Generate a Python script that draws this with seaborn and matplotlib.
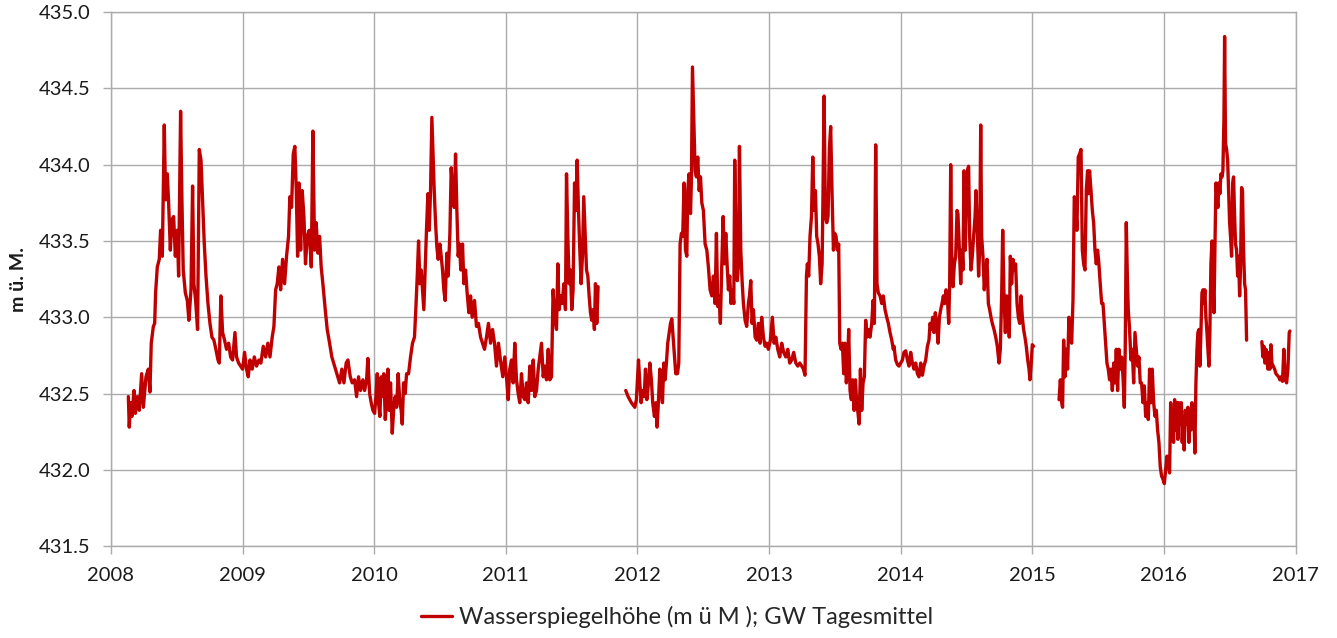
import matplotlib.pyplot as plt
import numpy as np
import pandas as pd
import seaborn as sns

# Grundwasserstand, Tagesmittel; Zeit als Dezimaljahr
jahr_a = [2008.132, 2008.139, 2008.149, 2008.159, 2008.175, 2008.185, 2008.200, 2008.215, 2008.233, 2008.246,
          2008.266, 2008.284, 2008.296, 2008.306, 2008.322, 2008.332, 2008.339, 2008.352, 2008.367, 2008.377,
          2008.390, 2008.405, 2008.415, 2008.428, 2008.438, 2008.451, 2008.463, 2008.476, 2008.489, 2008.504,
          2008.514, 2008.529, 2008.539, 2008.549, 2008.565, 2008.580, 2008.592, 2008.608, 2008.620, 2008.630,
          2008.643, 2008.658, 2008.671, 2008.684, 2008.696, 2008.709, 2008.722, 2008.737, 2008.752, 2008.767,
          2008.782, 2008.797, 2008.813, 2008.823, 2008.835, 2008.848, 2008.863, 2008.878, 2008.894, 2008.909,
          2008.924, 2008.942, 2008.954, 2008.970, 2008.985, 2009.000, 2009.015, 2009.030, 2009.043, 2009.056,
          2009.073, 2009.089, 2009.106, 2009.124, 2009.139, 2009.157, 2009.175, 2009.192, 2009.208, 2009.225,
          2009.238, 2009.251, 2009.263, 2009.276, 2009.289, 2009.304, 2009.319, 2009.334, 2009.349, 2009.359,
          2009.372, 2009.385, 2009.397, 2009.408, 2009.418, 2009.428, 2009.441, 2009.453, 2009.466, 2009.478,
          2009.491, 2009.506]
pegel_a = [432.48, 432.28, 432.44, 432.35, 432.52, 432.37, 432.48, 432.39, 432.63, 432.41,
           432.61, 432.66, 432.51, 432.83, 432.94, 432.96, 433.16, 433.33, 433.38, 433.57,
           433.40, 434.26, 433.77, 433.94, 433.75, 433.44, 433.64, 433.66, 433.40, 433.57,
           433.27, 434.35, 433.77, 433.31, 433.16, 433.11, 432.98, 433.18, 433.86, 433.22,
           433.11, 432.92, 434.10, 434.03, 433.77, 433.48, 433.27, 433.09, 432.96, 432.87,
           432.85, 432.79, 432.72, 432.70, 433.14, 432.90, 432.85, 432.79, 432.83, 432.74,
           432.72, 432.90, 432.74, 432.70, 432.68, 432.66, 432.77, 432.66, 432.61, 432.72,
           432.66, 432.74, 432.68, 432.72, 432.70, 432.81, 432.74, 432.83, 432.74, 432.87,
           432.94, 433.18, 433.22, 433.33, 433.18, 433.38, 433.22, 433.40, 433.53, 433.79,
           433.72, 434.07, 434.12, 433.83, 433.40, 433.88, 433.44, 433.83, 433.66, 433.35,
           433.53, 433.57]

jahr_b = [2009.522, 2009.534, 2009.547, 2009.559, 2009.572, 2009.585, 2009.597, 2009.610, 2009.628, 2009.643,
          2009.661, 2009.678, 2009.699, 2009.716, 2009.737, 2009.754, 2009.770, 2009.787, 2009.800, 2009.818,
          2009.833, 2009.851, 2009.866, 2009.881, 2009.896, 2009.914, 2009.927, 2009.942, 2009.952, 2009.965,
          2009.977, 2009.990, 2010.003, 2010.013, 2010.023, 2010.033, 2010.043, 2010.053, 2010.066, 2010.073,
          2010.084, 2010.094, 2010.104, 2010.114, 2010.124, 2010.137, 2010.149, 2010.159, 2010.170, 2010.182,
          2010.195, 2010.205, 2010.213, 2010.223, 2010.235, 2010.246, 2010.261, 2010.276, 2010.291, 2010.306,
          2010.316, 2010.327, 2010.337, 2010.347, 2010.357, 2010.367, 2010.377, 2010.387, 2010.397, 2010.408,
          2010.418, 2010.428, 2010.438, 2010.446, 2010.456, 2010.466, 2010.476, 2010.486, 2010.499, 2010.509,
          2010.519, 2010.529, 2010.539, 2010.552, 2010.562, 2010.575, 2010.585, 2010.595, 2010.608, 2010.618,
          2010.628, 2010.638, 2010.648, 2010.658, 2010.671, 2010.681, 2010.694, 2010.706, 2010.719, 2010.732,
          2010.744, 2010.762, 2010.777, 2010.792, 2010.808, 2010.823, 2010.838, 2010.853, 2010.868, 2010.884,
          2010.899, 2010.914, 2010.929, 2010.944, 2010.959, 2010.977]
pegel_b = [433.33, 434.22, 433.44, 433.62, 433.42, 433.53, 433.33, 433.22, 433.05, 432.92,
           432.83, 432.74, 432.68, 432.63, 432.57, 432.66, 432.57, 432.70, 432.72, 432.61,
           432.57, 432.59, 432.48, 432.61, 432.52, 432.59, 432.52, 432.59, 432.73, 432.50,
           432.44, 432.39, 432.37, 432.48, 432.63, 432.44, 432.35, 432.61, 432.48, 432.63,
           432.33, 432.44, 432.66, 432.39, 432.57, 432.24, 432.41, 432.48, 432.41, 432.63,
           432.44, 432.39, 432.30, 432.57, 432.50, 432.63, 432.63, 432.74, 432.83, 432.87,
           433.05, 433.27, 433.50, 433.22, 433.31, 433.18, 433.05, 433.31, 433.57, 433.81,
           433.57, 433.83, 434.31, 434.10, 433.83, 433.62, 433.46, 433.38, 433.48, 433.40,
           433.31, 433.18, 433.11, 433.42, 433.27, 433.55, 433.98, 433.83, 433.72, 434.07,
           433.70, 433.40, 433.48, 433.31, 433.48, 433.22, 433.31, 433.16, 433.03, 433.14,
           433.00, 433.11, 432.94, 432.96, 432.87, 432.83, 432.79, 432.87, 432.96, 432.83,
           432.92, 432.83, 432.68, 432.83, 432.72, 432.61]

jahr_c = [2010.992, 2011.005, 2011.018, 2011.030, 2011.043, 2011.056, 2011.068, 2011.081, 2011.094, 2011.106,
          2011.119, 2011.132, 2011.144, 2011.157, 2011.170, 2011.182, 2011.195, 2011.208, 2011.220, 2011.233,
          2011.246, 2011.258, 2011.271, 2011.284, 2011.296, 2011.309, 2011.322, 2011.334, 2011.347, 2011.359,
          2011.372, 2011.385, 2011.395, 2011.405, 2011.415, 2011.428, 2011.441, 2011.453, 2011.461, 2011.471,
          2011.481, 2011.491, 2011.501, 2011.511, 2011.522, 2011.532, 2011.542, 2011.552, 2011.562, 2011.572,
          2011.582, 2011.592, 2011.603, 2011.613, 2011.623, 2011.633, 2011.643, 2011.653, 2011.663, 2011.673,
          2011.681, 2011.691, 2011.701]
pegel_c = [432.74, 432.61, 432.46, 432.66, 432.72, 432.57, 432.83, 432.59, 432.50, 432.44,
           432.63, 432.48, 432.46, 432.57, 432.44, 432.68, 432.52, 432.72, 432.48, 432.52,
           432.66, 432.74, 432.83, 432.61, 432.68, 432.59, 432.79, 432.59, 432.61, 433.18,
           433.00, 432.92, 433.35, 433.05, 433.14, 433.09, 433.22, 433.05, 433.94, 433.53,
           433.22, 433.31, 433.05, 433.18, 433.88, 433.70, 434.03, 433.70, 433.44, 433.22,
           433.40, 433.79, 433.53, 433.31, 433.27, 433.14, 433.03, 432.98, 433.05, 432.92,
           433.22, 432.96, 433.20]

jahr_d = [2011.911, 2011.929, 2011.954, 2011.980, 2011.992, 2012.008, 2012.018, 2012.028, 2012.038, 2012.051,
          2012.061, 2012.071, 2012.084, 2012.094, 2012.106, 2012.116, 2012.129, 2012.139, 2012.149, 2012.159,
          2012.170, 2012.180, 2012.190, 2012.200, 2012.210, 2012.220, 2012.230, 2012.241, 2012.251, 2012.261,
          2012.271, 2012.281, 2012.291, 2012.304, 2012.314, 2012.324, 2012.334, 2012.344, 2012.354, 2012.365,
          2012.375, 2012.382, 2012.392, 2012.403, 2012.410, 2012.418, 2012.428, 2012.438, 2012.448]
pegel_d = [432.52, 432.48, 432.44, 432.41, 432.46, 432.72, 432.57, 432.44, 432.52, 432.48,
           432.66, 432.46, 432.57, 432.70, 432.59, 432.44, 432.35, 432.44, 432.28, 432.44,
           432.66, 432.52, 432.44, 432.70, 432.59, 432.70, 432.83, 432.90, 432.96, 432.99,
           432.87, 432.74, 432.63, 432.63, 432.70, 433.48, 433.55, 433.53, 433.88, 433.44,
           433.40, 433.83, 433.94, 433.68, 433.90, 434.64, 434.31, 433.96, 433.92]

jahr_e = [2012.458, 2012.469, 2012.479, 2012.489, 2012.501, 2012.514, 2012.527, 2012.539, 2012.552, 2012.565,
          2012.577, 2012.590, 2012.600, 2012.610, 2012.620, 2012.630, 2012.641, 2012.651, 2012.661, 2012.671,
          2012.681, 2012.691, 2012.701, 2012.711, 2012.722, 2012.732, 2012.739, 2012.749, 2012.759, 2012.767,
          2012.775, 2012.785, 2012.795, 2012.805, 2012.818, 2012.830, 2012.843, 2012.851, 2012.861, 2012.871,
          2012.881, 2012.894, 2012.906, 2012.919, 2012.932, 2012.944, 2012.957, 2012.970, 2012.982, 2012.995,
          2013.010, 2013.025, 2013.038, 2013.051, 2013.066, 2013.081, 2013.096, 2013.111, 2013.127, 2013.142,
          2013.157, 2013.172, 2013.187, 2013.203, 2013.218, 2013.233, 2013.248, 2013.261, 2013.273, 2013.284,
          2013.291, 2013.301, 2013.311, 2013.322, 2013.332, 2013.342, 2013.352, 2013.362, 2013.372, 2013.382,
          2013.392, 2013.403, 2013.410, 2013.418, 2013.428, 2013.438, 2013.448, 2013.458, 2013.468, 2013.478,
          2013.489, 2013.499, 2013.509, 2013.519, 2013.529, 2013.537, 2013.547, 2013.557, 2013.567, 2013.577,
          2013.587, 2013.597, 2013.605, 2013.615, 2013.625, 2013.635, 2013.646, 2013.656, 2013.666, 2013.676,
          2013.684, 2013.694, 2013.704, 2013.714, 2013.724, 2013.734, 2013.744, 2013.754, 2013.767, 2013.780,
          2013.790, 2013.800, 2013.810, 2013.820, 2013.830, 2013.843, 2013.856, 2013.868, 2013.881, 2013.894,
          2013.906, 2013.919, 2013.932, 2013.944]
pegel_e = [434.05, 433.83, 433.92, 433.75, 433.70, 433.48, 433.44, 433.33, 433.18, 433.14,
           433.27, 433.09, 433.55, 433.07, 433.14, 432.96, 433.35, 433.66, 433.35, 433.55,
           433.35, 433.18, 433.27, 433.09, 433.18, 433.09, 434.03, 433.44, 433.24, 433.35,
           434.12, 433.44, 433.24, 433.09, 432.98, 432.94, 433.09, 433.14, 433.24, 432.96,
           433.05, 432.87, 432.85, 432.96, 432.83, 433.00, 432.87, 432.81, 432.83, 432.79,
           432.85, 433.00, 432.83, 432.87, 432.79, 432.74, 432.83, 432.77, 432.74, 432.79,
           432.70, 432.72, 432.77, 432.70, 432.68, 432.70, 432.68, 432.66, 432.62, 433.27,
           433.35, 433.27, 433.53, 433.66, 434.05, 433.70, 433.83, 433.53, 433.48, 433.40,
           433.22, 433.35, 433.83, 434.45, 433.66, 433.62, 433.66, 434.10, 434.25, 433.83,
           433.44, 433.55, 433.53, 433.44, 433.48, 432.83, 432.79, 432.83, 432.63, 432.83,
           432.57, 432.70, 432.92, 432.52, 432.46, 432.59, 432.39, 432.59, 432.44, 432.37,
           432.30, 432.66, 432.39, 432.57, 432.61, 432.98, 432.87, 432.92, 432.87, 432.96,
           433.11, 432.96, 434.13, 433.22, 433.16, 433.14, 433.09, 433.14, 433.05, 433.00,
           432.96, 432.90, 432.85, 432.79]

jahr_f = [2013.949, 2013.962, 2013.975, 2013.987, 2014.000, 2014.013, 2014.025, 2014.038, 2014.051, 2014.063,
          2014.076, 2014.089, 2014.101, 2014.114, 2014.127, 2014.139, 2014.152, 2014.165, 2014.177, 2014.190,
          2014.203, 2014.215, 2014.223, 2014.233, 2014.243, 2014.253, 2014.263, 2014.273, 2014.284, 2014.294,
          2014.304, 2014.314, 2014.324, 2014.334, 2014.344, 2014.354, 2014.365, 2014.372, 2014.380, 2014.387,
          2014.397, 2014.408, 2014.418, 2014.428, 2014.435, 2014.446, 2014.456, 2014.466, 2014.473, 2014.481,
          2014.491, 2014.499, 2014.509, 2014.516, 2014.524, 2014.534, 2014.544, 2014.554, 2014.565, 2014.572,
          2014.582, 2014.592, 2014.600, 2014.608, 2014.615, 2014.625, 2014.635, 2014.646, 2014.656, 2014.666,
          2014.676, 2014.686, 2014.696, 2014.709, 2014.722, 2014.734, 2014.747, 2014.757, 2014.767, 2014.775,
          2014.785, 2014.795, 2014.805, 2014.815, 2014.825, 2014.833, 2014.843, 2014.853, 2014.863, 2014.873,
          2014.884, 2014.894, 2014.904, 2014.914, 2014.924, 2014.934, 2014.944, 2014.954, 2014.965, 2014.975,
          2014.982, 2014.992, 2015.000, 2015.010]
pegel_f = [432.81, 432.72, 432.69, 432.68, 432.70, 432.72, 432.77, 432.78, 432.72, 432.68,
           432.77, 432.70, 432.66, 432.70, 432.63, 432.61, 432.70, 432.62, 432.68, 432.72,
           432.81, 432.85, 432.96, 432.92, 433.00, 432.90, 433.03, 432.96, 432.83, 433.00,
           433.05, 433.09, 433.14, 433.09, 433.18, 433.14, 432.96, 433.22, 434.00, 433.44,
           433.20, 433.35, 433.40, 433.70, 433.68, 433.44, 433.22, 433.44, 433.31, 433.96,
           433.44, 433.79, 433.97, 433.99, 433.53, 433.31, 433.40, 433.53, 433.66, 433.83,
           433.57, 433.27, 433.44, 434.26, 433.53, 433.40, 433.18, 433.31, 433.38, 433.09,
           433.05, 433.00, 432.96, 432.92, 432.87, 432.81, 432.70, 432.79, 433.14, 433.57,
           433.14, 432.90, 433.14, 433.05, 432.87, 433.40, 433.22, 433.38, 433.31, 433.35,
           433.09, 433.00, 432.96, 433.14, 433.00, 432.92, 432.87, 432.81, 432.72, 432.66,
           432.59, 432.70, 432.82, 432.81]

jahr_g = [2015.203, 2015.213, 2015.223, 2015.230, 2015.238, 2015.248, 2015.258, 2015.268, 2015.278, 2015.289,
          2015.299, 2015.309, 2015.319, 2015.329, 2015.339, 2015.349, 2015.359, 2015.370, 2015.380, 2015.390,
          2015.400, 2015.410, 2015.420, 2015.425, 2015.435, 2015.446, 2015.456, 2015.466, 2015.476, 2015.486,
          2015.496, 2015.506, 2015.516, 2015.527, 2015.537, 2015.547, 2015.557, 2015.567, 2015.577, 2015.587,
          2015.597, 2015.608, 2015.618, 2015.628, 2015.638, 2015.648, 2015.658, 2015.668, 2015.678, 2015.689,
          2015.699, 2015.706, 2015.714, 2015.722, 2015.729, 2015.739, 2015.749, 2015.759, 2015.770, 2015.780,
          2015.790, 2015.800, 2015.810, 2015.820, 2015.830, 2015.841, 2015.851, 2015.861, 2015.871, 2015.881,
          2015.891, 2015.901, 2015.911, 2015.922, 2015.932, 2015.942, 2015.952, 2015.962, 2015.972, 2015.982,
          2015.992, 2016.003, 2016.013, 2016.023, 2016.033, 2016.043, 2016.051, 2016.058, 2016.066, 2016.073,
          2016.081, 2016.091, 2016.099, 2016.106, 2016.114, 2016.124, 2016.132, 2016.139, 2016.147, 2016.154,
          2016.162, 2016.172, 2016.182, 2016.190, 2016.197, 2016.205, 2016.213, 2016.220, 2016.228, 2016.235,
          2016.243, 2016.251, 2016.258, 2016.266, 2016.273, 2016.281, 2016.289, 2016.296, 2016.304, 2016.311,
          2016.319, 2016.327, 2016.334, 2016.342, 2016.349, 2016.357, 2016.365, 2016.372, 2016.380, 2016.387,
          2016.395, 2016.403, 2016.410, 2016.418, 2016.425, 2016.433, 2016.441, 2016.448, 2016.456, 2016.461,
          2016.468, 2016.476, 2016.484, 2016.491, 2016.499, 2016.506, 2016.514, 2016.522, 2016.529, 2016.537,
          2016.544, 2016.552, 2016.560, 2016.567, 2016.575, 2016.582, 2016.590, 2016.597, 2016.605, 2016.613,
          2016.620, 2016.628]
pegel_g = [432.46, 432.59, 432.44, 432.41, 432.85, 432.61, 432.79, 432.66, 433.00, 432.87,
           432.83, 433.11, 433.79, 433.75, 433.57, 434.05, 434.07, 434.10, 433.44, 433.35,
           433.31, 433.83, 433.96, 433.81, 433.96, 433.83, 433.70, 433.62, 433.44, 433.35,
           433.44, 433.35, 433.22, 433.09, 433.09, 432.96, 432.83, 432.70, 432.66, 432.59,
           432.66, 432.52, 432.70, 432.57, 432.79, 432.52, 432.79, 432.66, 432.74, 432.61,
           432.41, 432.79, 433.62, 433.27, 433.05, 432.92, 432.72, 432.79, 432.57, 432.90,
           432.79, 432.68, 432.74, 432.57, 432.57, 432.44, 432.55, 432.35, 432.44, 432.33,
           432.66, 432.44, 432.66, 432.44, 432.35, 432.39, 432.26, 432.18, 432.02, 431.96,
           431.94, 431.91, 432.00, 432.09, 432.04, 431.98, 432.44, 432.22, 432.30, 432.18,
           432.46, 432.26, 432.44, 432.20, 432.44, 432.30, 432.44, 432.18, 432.35, 432.13,
           432.39, 432.30, 432.41, 432.18, 432.37, 432.26, 432.44, 432.28, 432.37, 432.11,
           432.57, 432.79, 432.90, 432.92, 432.68, 432.90, 433.16, 433.18, 433.09, 433.18,
           433.00, 432.90, 432.79, 432.68, 432.90, 433.35, 433.50, 433.24, 433.03, 433.44,
           433.88, 433.79, 433.72, 433.88, 433.81, 433.94, 433.92, 433.96, 434.31, 434.84,
           434.14, 434.10, 434.03, 433.83, 433.62, 433.53, 433.40, 433.88, 433.92, 433.66,
           433.48, 433.44, 433.27, 433.40, 433.14, 433.33, 433.85, 433.83, 433.44, 433.22,
           433.18, 432.85]

jahr_h = [2016.744, 2016.752, 2016.759, 2016.767, 2016.775, 2016.782, 2016.790, 2016.797, 2016.805, 2016.813,
          2016.820, 2016.830, 2016.841, 2016.851, 2016.861, 2016.871, 2016.881, 2016.891, 2016.901, 2016.911,
          2016.922, 2016.932, 2016.942, 2016.952, 2016.957]
pegel_h = [432.84, 432.74, 432.81, 432.70, 432.79, 432.72, 432.66, 432.77, 432.66, 432.82,
           432.70, 432.68, 432.66, 432.63, 432.62, 432.61, 432.59, 432.61, 432.58, 432.79,
           432.59, 432.57, 432.66, 432.90, 432.91]

serie = 'Wasserspiegelhöhe (m ü M ); GW Tagesmittel'
jahre = list(range(2008, 2018))
hoehen = [431.5, 432.0, 432.5, 433.0, 433.5, 434.0, 434.5, 435.0]

jahr = np.concatenate([jahr_a, jahr_b, jahr_c, jahr_d, jahr_e, jahr_f, jahr_g, jahr_h])
pegel = np.concatenate([pegel_a, pegel_b, pegel_c, pegel_d, pegel_e, pegel_f, pegel_g, pegel_h])
df = pd.DataFrame({'jahr': jahr, 'pegel': pegel})
# Messluecken (> ca. 18 Tage) trennen die Linie
df['abschnitt'] = (df['jahr'].diff() > 0.05).cumsum()
df['serie'] = serie

sns.set_theme(style='whitegrid')
plt.rcParams['font.family'] = ['Lato', 'DejaVu Sans']

grau = '#ABABAB'
fig, ax = plt.subplots(figsize=(13.37, 6.38), dpi=100)
fig.subplots_adjust(left=0.083, right=0.969, top=0.981, bottom=0.144)

sns.lineplot(data=df, x='jahr', y='pegel', hue='serie', units='abschnitt', estimator=None,
             palette={serie: '#C00000'}, linewidth=2.4, ax=ax)

ax.set_xlim(jahre[0], jahre[-1])
ax.set_ylim(hoehen[0], hoehen[-1])
ax.set_xticks(jahre)
ax.set_xticklabels([str(j) for j in jahre])
ax.set_yticks(hoehen)
ax.set_yticklabels([f'{h:.1f}' for h in hoehen])

ax.grid(True, color=grau, linewidth=1.0)
for spine in ax.spines.values():
    spine.set_color(grau)
    spine.set_linewidth(1.0)
ax.tick_params(axis='both', bottom=True, left=True, length=6, width=1.0, color=grau,
               labelsize=14.5, labelcolor='#1a1a1a')
ax.tick_params(axis='x', pad=9)
ax.tick_params(axis='y', pad=9)

ax.set_xlabel('')
ax.set_ylabel('m ü. M.', fontsize=14, fontweight='bold', color='#1a1a1a')
ax.yaxis.set_label_coords(-0.071, 0.5)

sns.move_legend(ax, 'center', bbox_to_anchor=(0.478, -0.133), frameon=False, title=None,
                fontsize=17, handlelength=1.3, handletextpad=0.3)

fig.savefig('out.png', dpi=100)
